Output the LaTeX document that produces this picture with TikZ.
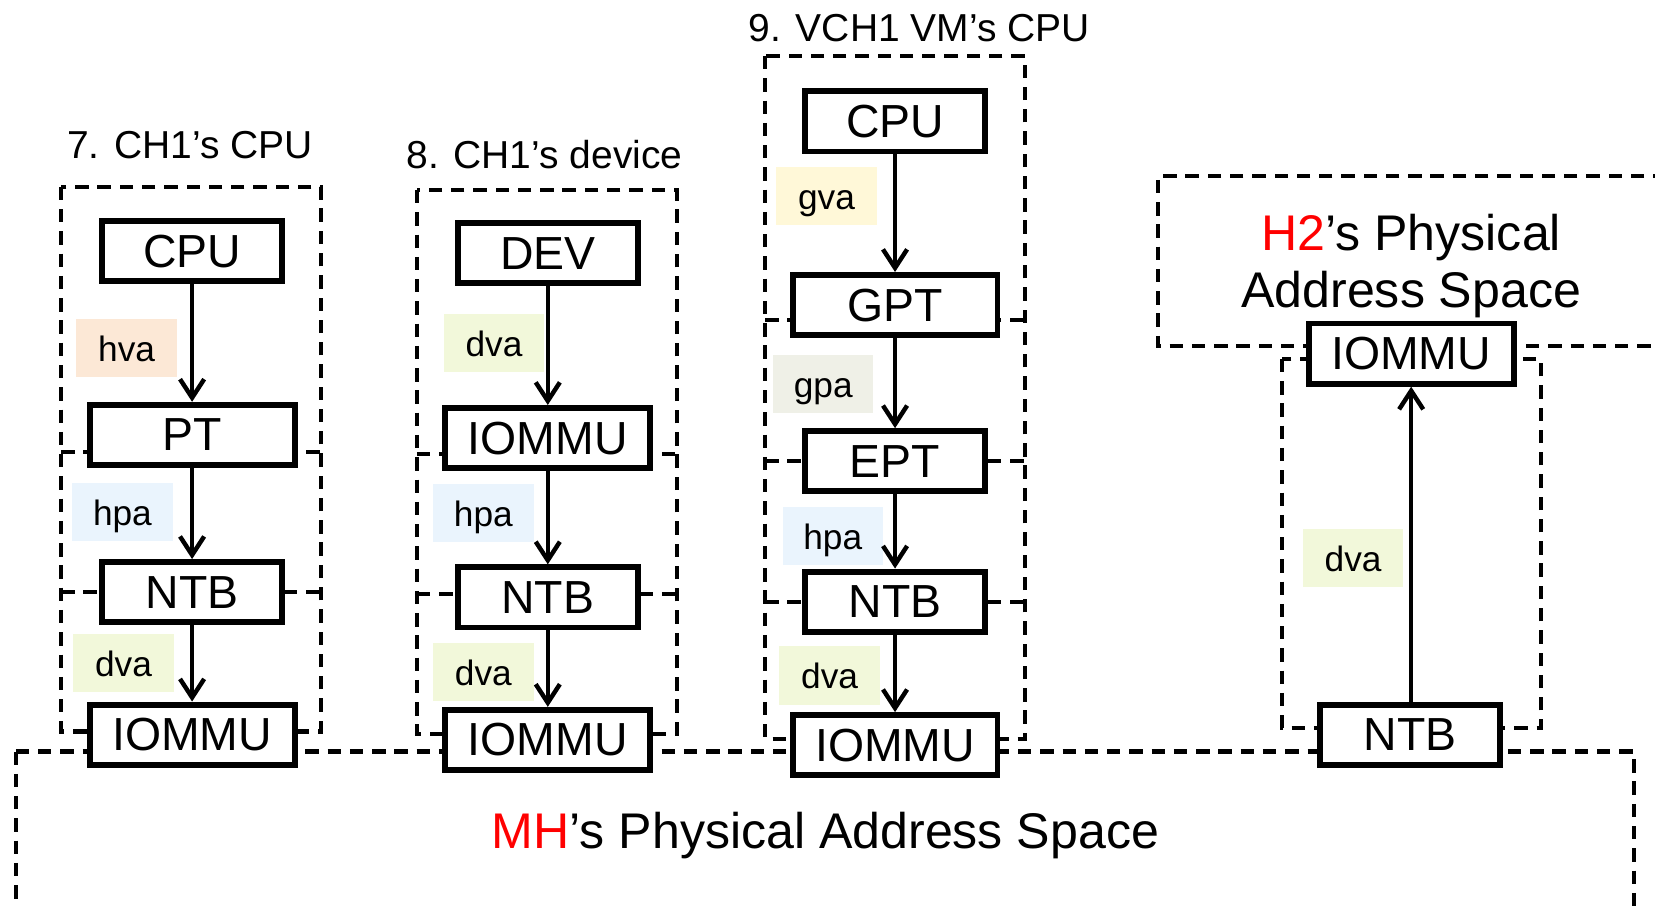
\documentclass[tikz,border=0pt]{standalone}
\usepackage{fontspec}
\setmainfont{Liberation Sans}
\usepackage{xcolor}
\usetikzlibrary{arrows.meta, positioning}
\definecolor{TagPeach}{RGB}{252,232,214}
\definecolor{TagBlue}{RGB}{234,244,253}
\definecolor{TagGreen}{RGB}{242,248,218}
\definecolor{TagYellow}{RGB}{255,248,216}
\definecolor{TagGrey}{RGB}{239,240,231}
\definecolor{SpaceRed}{RGB}{255,0,0}

\begin{document}
\begin{tikzpicture}[x=0.01cm,y=-0.01cm,
    unit/.style={draw=black,fill=white,line width=1.6pt,font=\fontsize{12.5}{15}\selectfont,
                 minimum width=1.70cm,minimum height=0.57cm,inner sep=0pt},
    wideunit/.style={unit,minimum width=1.94cm},
    tag/.style={font=\fontsize{9.5}{11}\selectfont,minimum width=0.95cm,minimum height=0.55cm,
                inner sep=0pt,text height=1.6ex,text depth=0.25ex},
    zone/.style={draw=black,line width=1.1pt,dash pattern=on 3.6pt off 2.4pt},
    flow/.style={-{Straight Barb[length=5pt,width=6.5pt]},black,line width=1.2pt},
    title/.style={font=\fontsize{10.5}{12}\selectfont},
    space/.style={font=\fontsize{13.5}{15.5}\selectfont,align=center}
  ]
    \useasboundingbox (0,0) rectangle (1568,859);

    % address space regions
    \draw[zone] (15,712) -- (15,900) (15,712) -- (1548,712) -- (1548,900);
    \draw[zone] (1600,167) -- (1097,167) -- (1097,328) -- (1600,328);
    \draw[zone] (58,177) rectangle (304,693);
    \draw[zone] (58,428) -- (304,428) (58,561) -- (304,561);
    \draw[zone] (395,180) rectangle (641,695);
    \draw[zone] (395,430) -- (641,430) (395,563) -- (641,563);
    \draw[zone] (725,53) rectangle (971,700);
    \draw[zone] (725,303) -- (971,303) (725,437) -- (971,437) (725,570) -- (971,570);
    \draw[zone] (1215,340) rectangle (1460,690);

    \node[title] (tA) at (180,137) {7. CH1’s CPU};
    \node[title] (tB) at (516,146) {8. CH1’s device};
    \node[title] (tC) at (871,27) {9. VCH1 VM’s CPU};
    \node[space] (spH2) at (1337,252) {\textcolor{SpaceRed}{H2}’s Physical\\Address Space};
    \node[space] (spMH) at (782,792) {\textcolor{SpaceRed}{MH}’s Physical Address Space};

    \node[unit] (cpuA) at (182,238) {CPU};
    \node[wideunit] (ptA) at (182,412) {PT};
    \node[unit] (ntbA) at (182,561) {NTB};
    \node[wideunit] (iommuA) at (182,696) {IOMMU};

    \node[unit] (devB) at (519,240) {DEV};
    \node[wideunit] (iommuB) at (519,415) {IOMMU};
    \node[unit] (ntbB) at (519,566) {NTB};
    \node[wideunit] (mmuB) at (519,701) {IOMMU};

    \node[unit] (cpuC) at (848,115) {CPU};
    \node[wideunit] (gptC) at (848,289) {GPT};
    \node[unit] (eptC) at (848,437) {EPT};
    \node[unit] (ntbC) at (848,570) {NTB};
    \node[wideunit] (iommuC) at (848,706) {IOMMU};

    \node[wideunit] (iommuD) at (1337,335) {IOMMU};
    \node[unit] (ntbD) at (1336,696) {NTB};

    \node[tag,fill=TagPeach] (hvaA) at (120,330) {hva};
    \node[tag,fill=TagBlue] (hpaA) at (116,485) {hpa};
    \node[tag,fill=TagGreen] (dvaA) at (117,628) {dva};
    \node[tag,fill=TagGreen] (dvaB) at (468,325) {dva};
    \node[tag,fill=TagBlue] (hpaB) at (458,486) {hpa};
    \node[tag,fill=TagGreen] (dvaBB) at (458,637) {dva};
    \node[tag,fill=TagYellow] (gvaC) at (783,186) {gva};
    \node[tag,fill=TagGrey] (gpaC) at (780,364) {gpa};
    \node[tag,fill=TagBlue] (hpaC) at (789,508) {hpa};
    \node[tag,fill=TagGreen] (dvaC) at (786,640) {dva};
    \node[tag,fill=TagGreen] (dvaD) at (1282,529) {dva};

    \draw[flow] (cpuA) -- (ptA);
    \draw[flow] (ptA) -- (ntbA);
    \draw[flow] (ntbA) -- (iommuA);
    \draw[flow] (devB) -- (iommuB);
    \draw[flow] (iommuB) -- (ntbB);
    \draw[flow] (ntbB) -- (mmuB);
    \draw[flow] (cpuC) -- (gptC);
    \draw[flow] (gptC) -- (eptC);
    \draw[flow] (eptC) -- (ntbC);
    \draw[flow] (ntbC) -- (iommuC);
    \draw[flow] (ntbD.north -| iommuD) -- (iommuD);
  \end{tikzpicture}
\end{document}
